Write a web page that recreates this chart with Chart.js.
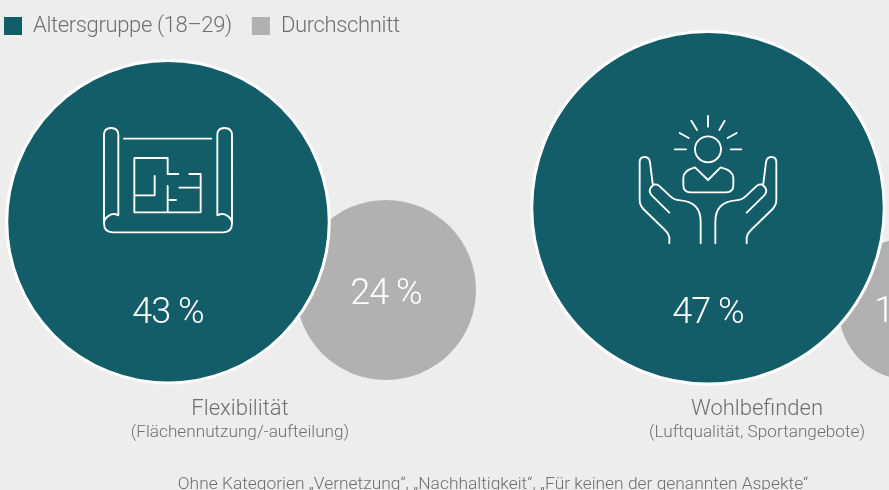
<!DOCTYPE html>
<html lang="de">
<head>
<meta charset="utf-8">
<title>Altersgruppe 18–29</title>
<script src="https://cdn.jsdelivr.net/npm/chart.js@4"></script>
<style>
html,body{margin:0;padding:0;background:#ededed;overflow:hidden}
#wrap{position:relative;width:889px;height:490px}
canvas{display:block}
</style>
</head>
<body>
<div id="wrap"><canvas id="c" width="889" height="490"></canvas></div>
<script>
// --- data ---
const categories = ['Flexibilität', 'Wohlbefinden'];
const subLabels = ['(Flächennutzung/-aufteilung)', '(Luftqualität, Sportangebote)'];
const seriesNames = ['Altersgruppe (18–29)', 'Durchschnitt'];
const ageGroup = [43, 47];
const average = [24, 19];
const footnote = 'Ohne Kategorien „Vernetzung“, „Nachhaltigkeit“, „Für keinen der genannten Aspekte“';

// --- layout ---
const PX_PER_POINT = 3.75;
const tealX = [168, 708];
const greyX = [386, 910];
const tealBase = [383, 384];
const greyBase = [380, 380];
const tealLabelY = 313.5;
const labelX = [240, 757];
const TEAL = '#135d69', GREY = '#b1b1b1', TEXT = '#6f6f6f';
const FONT = 'Roboto';
const LEGEND_PAD = 20;

const bubble = (xs, vals, base) => vals.map((v, i) => ({
  x: xs[i], y: base[i] - v * PX_PER_POINT, r: v * PX_PER_POINT
}));

function pathOf(ctx, ox, oy, draw) {
  ctx.save();
  ctx.translate(ox, oy);
  ctx.scale(1 / 3, 1 / 3);
  ctx.strokeStyle = '#fff';
  ctx.lineWidth = 5.6;
  ctx.lineCap = 'round';
  ctx.lineJoin = 'round';
  ctx.beginPath();
  draw(ctx);
  ctx.stroke();
  ctx.restore();
}

function planIcon(c) {
  c.moveTo(85, 316); c.lineTo(85, 76); c.quadraticCurveTo(85, 54, 63, 54);
  c.quadraticCurveTo(42, 54, 42, 76); c.lineTo(42, 340);
  c.quadraticCurveTo(42, 367, 68, 367); c.lineTo(400, 367);
  c.quadraticCurveTo(426, 367, 426, 340); c.lineTo(426, 76);
  c.quadraticCurveTo(426, 54, 403, 54); c.quadraticCurveTo(382, 54, 382, 76); c.lineTo(382, 316);
  c.moveTo(85, 316); c.quadraticCurveTo(70, 308, 58, 316); c.quadraticCurveTo(42, 325, 42, 340);
  c.moveTo(382, 316); c.quadraticCurveTo(398, 308, 410, 316); c.quadraticCurveTo(426, 325, 426, 340);
  c.moveTo(102, 86); c.lineTo(364, 86);
  c.moveTo(265, 192); c.lineTo(233, 192); c.lineTo(233, 144); c.lineTo(133, 144);
  c.lineTo(133, 307); c.lineTo(332, 307); c.lineTo(332, 192); c.lineTo(298, 192);
  c.moveTo(194, 198); c.lineTo(194, 256); c.lineTo(133, 256);
  c.moveTo(233, 228); c.lineTo(233, 307);
  c.moveTo(233, 270); c.lineTo(258, 270);
  c.moveTo(268, 233); c.lineTo(332, 233);
}

function hand(c, m) {
  const X = x => m ? 468 - x : x;
  c.moveTo(X(118), 415); c.lineTo(X(118), 397); c.quadraticCurveTo(X(116), 385, X(105), 375);
  c.lineTo(X(40), 312); c.quadraticCurveTo(X(29), 300, X(29), 285); c.lineTo(X(29), 172);
  c.quadraticCurveTo(X(29), 156, X(44), 156); c.quadraticCurveTo(X(58), 156, X(60), 172); c.lineTo(X(68), 236);
  c.moveTo(X(118), 323); c.lineTo(X(66), 272); c.quadraticCurveTo(X(55), 260, X(62), 248);
  c.quadraticCurveTo(X(72), 232, X(87), 242); c.lineTo(X(122), 275); c.quadraticCurveTo(X(132), 285, X(150), 286);
  c.quadraticCurveTo(X(212), 290, X(212), 350); c.lineTo(X(212), 415);
}

function wellIcon(c) {
  [[234,33,234,65],[184,47,201,75],[284,47,268,75],[149,84,176,99],[320,84,293,99],[134,133,168,133],[302,133,334,133]]
    .forEach(r => { c.moveTo(r[0], r[1]); c.lineTo(r[2], r[3]); });
  c.moveTo(273, 133); c.arc(234, 133, 39, 0, Math.PI * 2);
  c.moveTo(195, 187); c.lineTo(234, 225); c.lineTo(272, 187); c.quadraticCurveTo(310, 197, 310, 218);
  c.lineTo(310, 240); c.quadraticCurveTo(310, 262, 288, 262); c.lineTo(182, 262);
  c.quadraticCurveTo(160, 262, 160, 240); c.lineTo(160, 218); c.quadraticCurveTo(160, 197, 195, 187);
  hand(c, false); hand(c, true);
}

const overlay = {
  id: 'overlay',
  beforeLayout(chart) { chart.ctx.letterSpacing = '-0.35px'; },
  afterLayout(chart) {
    // the legend hugs the page's top-left corner
    chart.legend.left = 4 - LEGEND_PAD;
    chart.legend.top = 16 - LEGEND_PAD - 1;
  },
  beforeDraw(chart) { chart.ctx.letterSpacing = '-0.35px'; },
  afterDatasetsDraw(chart) {
    const ctx = chart.ctx;
    const teal = chart.getDatasetMeta(0).data;
    const grey = chart.getDatasetMeta(1).data;
    pathOf(ctx, 90, 110, planIcon);
    pathOf(ctx, 630, 105, wellIcon);
    ctx.save();
    ctx.textAlign = 'center';
    ctx.textBaseline = 'middle';
    ctx.fillStyle = '#fff';
    ctx.letterSpacing = '-1px';
    ctx.font = `300 36px ${FONT}`;
    ageGroup.forEach((v, i) => ctx.fillText(v + ' %', teal[i].x, tealLabelY));
    average.forEach((v, i) => ctx.fillText(v + ' %', grey[i].x, grey[i].y + 4.5));
    ctx.letterSpacing = '0px';
    ctx.fillStyle = TEXT;
    ctx.font = `300 22px ${FONT}`;
    categories.forEach((t, i) => ctx.fillText(t, labelX[i], 409));
    ctx.font = `300 17.2px ${FONT}`;
    subLabels.forEach((t, i) => ctx.fillText(t, labelX[i], 433));
    ctx.font = `300 17.4px ${FONT}`;
    ctx.fillText(footnote, 493, 484.5);
    ctx.restore();
  }
};

const chart = new Chart(document.getElementById('c'), {
  type: 'bubble',
  data: {
    datasets: [
      { label: seriesNames[0], data: bubble(tealX, ageGroup, tealBase), backgroundColor: TEAL, borderColor: '#fff', borderWidth: 3, clip: false },
      { label: seriesNames[1], data: bubble(greyX, average, greyBase), backgroundColor: GREY, borderColor: GREY, borderWidth: 0, clip: false }
    ]
  },
  options: {
    responsive: false,
    animation: false,
    layout: { padding: 0 },
    scales: {
      x: { type: 'linear', display: false, min: 0, max: 889 },
      y: { type: 'linear', display: false, min: 0, max: 490, reverse: true }
    },
    plugins: {
      tooltip: { enabled: false },
      legend: {
        position: 'top',
        align: 'start',
        labels: {
          boxWidth: 18, boxHeight: 18, padding: LEGEND_PAD,
          color: TEXT,
          font: { family: FONT, size: 22, weight: '300' },
          generateLabels(chart) {
            return chart.data.datasets.map((d, i) => ({
              text: d.label, fillStyle: d.backgroundColor, strokeStyle: d.backgroundColor,
              lineWidth: 0, datasetIndex: i, fontColor: TEXT
            }));
          }
        }
      }
    }
  },
  plugins: [overlay]
});
// Stop the bubble controller insetting the plot by its largest radius, then
// let the y scale's data units equal page pixels below the legend.
chart.data.datasets.forEach((d, i) => { chart.getDatasetMeta(i).controller.getMaxOverflow = () => 0; });
chart.update();
chart.options.scales.y.min = chart.chartArea.top;
chart.update();
</script>
</body>
</html>
